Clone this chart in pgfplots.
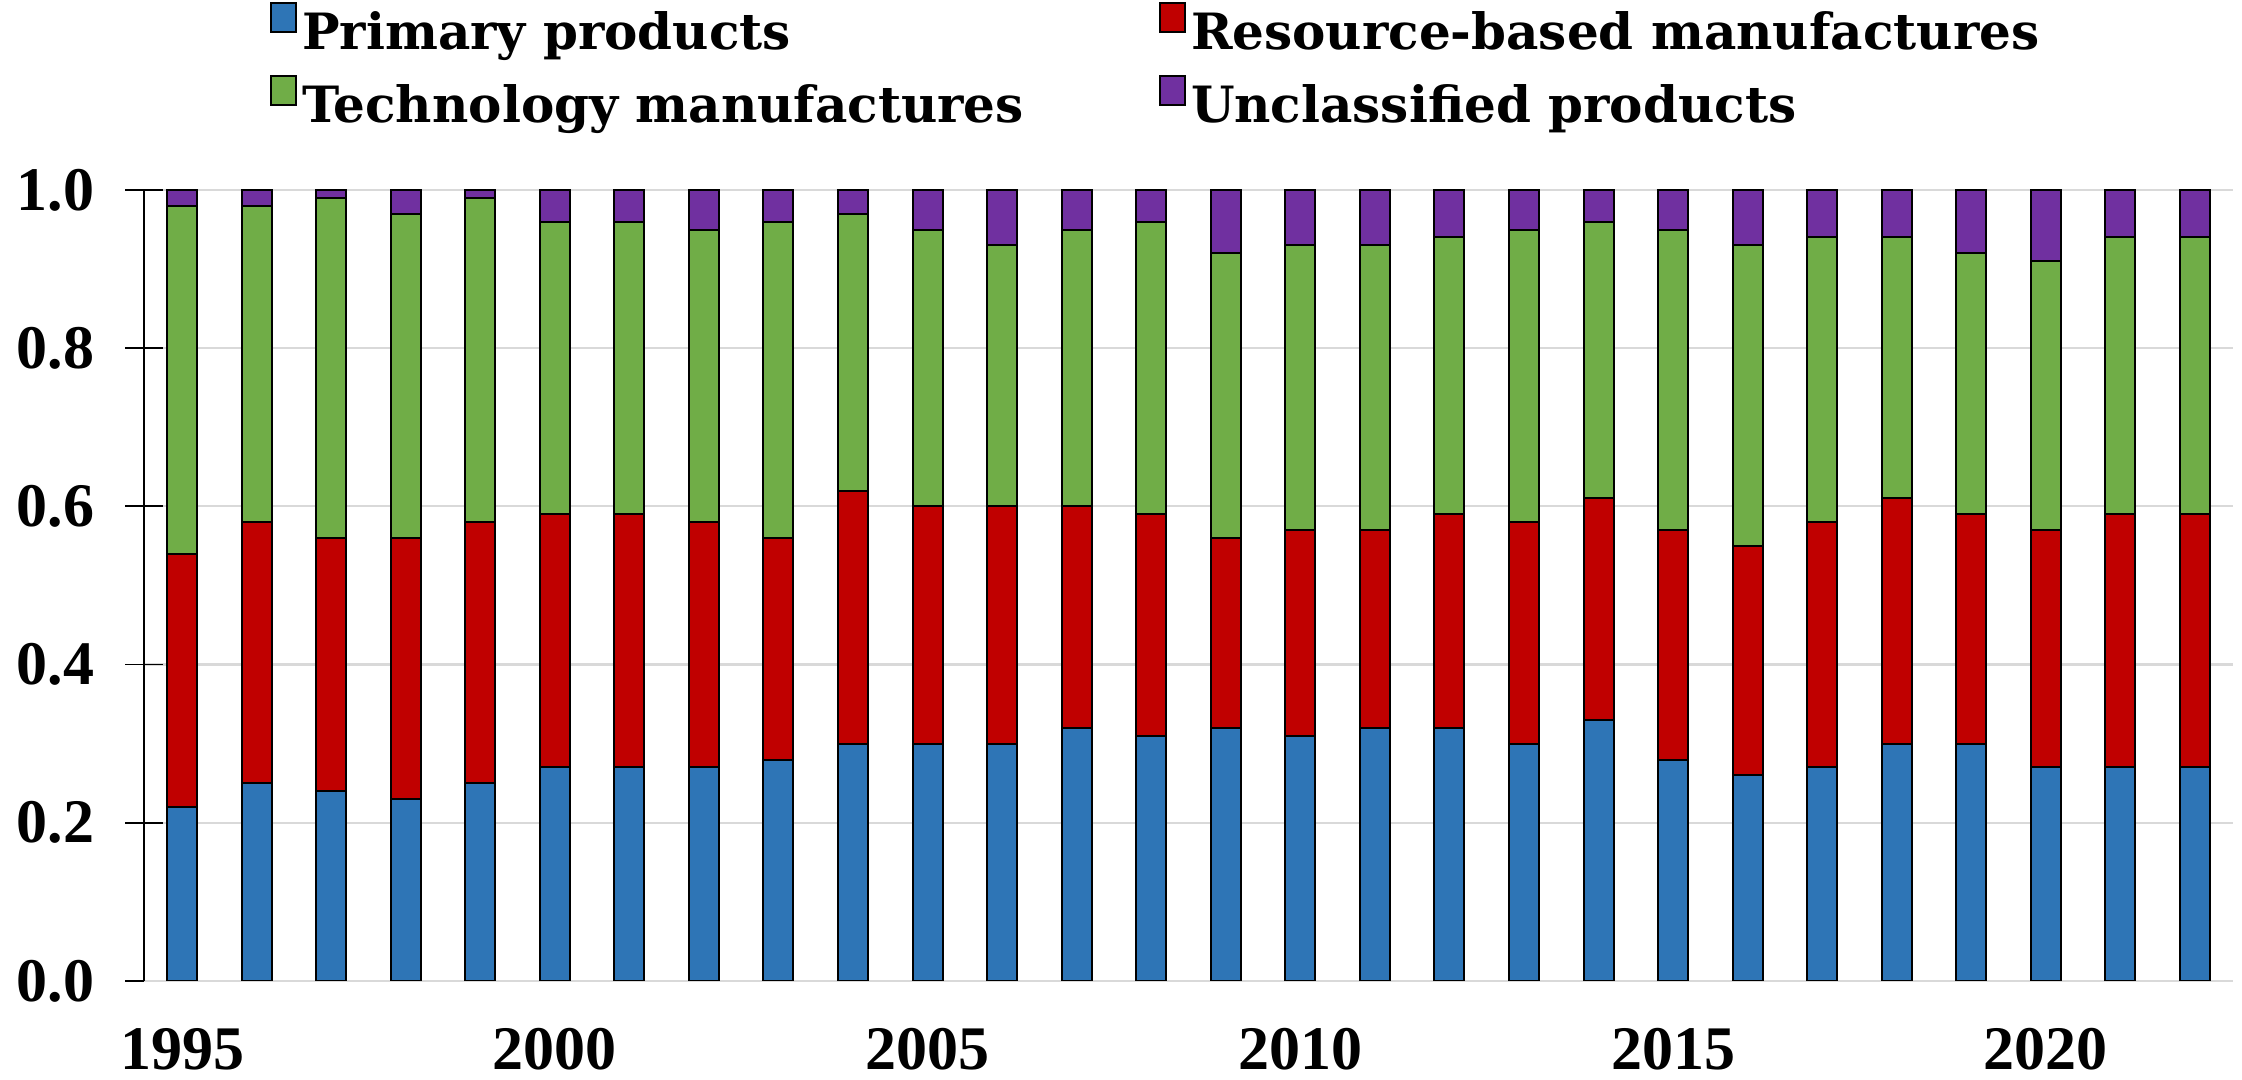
\documentclass[border=0pt]{standalone}
\usepackage{pgfplots}
\pgfplotsset{compat=1.18}
\usepackage{pgfplotstable}
\usepackage{fontspec}
\setmainfont{DejaVu Serif}
\newfontfamily\tickfont{Liberation Serif}

\definecolor{cPrim}{HTML}{2E75B6}
\definecolor{cRes}{HTML}{C00000}
\definecolor{cTech}{HTML}{70AD47}
\definecolor{cUncl}{HTML}{7030A0}
\definecolor{cGrid}{HTML}{D9D9D9}

% Export shares by product group (x = years since 1995)
\pgfplotstableread{
x  prim res  tech uncl
0  0.22 0.32 0.44 0.02
1  0.25 0.33 0.40 0.02
2  0.24 0.32 0.43 0.01
3  0.23 0.33 0.41 0.03
4  0.25 0.33 0.41 0.01
5  0.27 0.32 0.37 0.04
6  0.27 0.32 0.37 0.04
7  0.27 0.31 0.37 0.05
8  0.28 0.28 0.40 0.04
9  0.30 0.32 0.35 0.03
10 0.30 0.30 0.35 0.05
11 0.30 0.30 0.33 0.07
12 0.32 0.28 0.35 0.05
13 0.31 0.28 0.37 0.04
14 0.32 0.24 0.36 0.08
15 0.31 0.26 0.36 0.07
16 0.32 0.25 0.36 0.07
17 0.32 0.27 0.35 0.06
18 0.30 0.28 0.37 0.05
19 0.33 0.28 0.35 0.04
20 0.28 0.29 0.38 0.05
21 0.26 0.29 0.38 0.07
22 0.27 0.31 0.36 0.06
23 0.30 0.31 0.33 0.06
24 0.30 0.29 0.33 0.08
25 0.27 0.30 0.34 0.09
26 0.27 0.32 0.35 0.06
27 0.27 0.32 0.35 0.06
}\shares

\begin{document}
\begin{tikzpicture}
\path[use as bounding box] (-72pt,-49.5pt) rectangle (1049pt,490.5pt);
\begin{axis}[
  at={(0pt,0pt)}, anchor=south west,
  scale only axis,
  width=1044.5pt, height=395.5pt,
  ybar stacked,
  bar width=15pt,
  xmin=-0.51, xmax=27.51,
  ymin=0, ymax=1,
  xtick={0,5,10,15,20,25},
  xticklabels={1995,2000,2005,2010,2015,2020},
  ytick={0,0.2,0.4,0.6,0.8,1.0},
  yticklabel style={anchor=east, inner sep=0pt, xshift=-15.5pt,
    /pgf/number format/fixed, /pgf/number format/fixed zerofill,
    /pgf/number format/precision=1, /pgf/number format/assume math mode=true},
  xticklabel style={anchor=base, inner sep=0pt, yshift=-44.5pt},
  ticklabel style={font=\tickfont\fontsize{31}{34}\selectfont\bfseries},
  xtick style={draw=none},
  ytick style={black, line width=0.9pt},
  major tick length=18.5pt,
  ytick align=center,
  ymajorgrids,
  grid style={cGrid, line width=1.1pt},
  axis x line*=bottom,
  axis y line*=left,
  x axis line style={cGrid, line width=1.1pt, -},
  y axis line style={black, line width=0.9pt, -},
  legend columns=2,
  legend cell align=left,
  legend image code/.code={\draw[#1, line width=0.9pt] (0pt,0pt) rectangle (12.5pt,14.5pt);},
  legend style={
    at={(0,1)}, anchor=north west,
    xshift=63pt, yshift=94pt,
    draw=none, fill=none, inner sep=0pt,
    nodes={inner sep=0pt},
    font=\fontsize{25}{30}\selectfont\bfseries,
    row sep=11.3pt, column sep=0pt,
    /tikz/every odd column/.append style={column sep=2.5pt},
  },
  every axis plot/.append style={draw=black, line width=1pt},
]
\addplot[fill=cPrim] table[x=x, y=prim] {\shares};
\addlegendentry{\makebox[428.5pt][l]{Primary products}}
\addplot[fill=cRes] table[x=x, y=res] {\shares};
\addlegendentry{Resource-based manufactures}
\addplot[fill=cTech] table[x=x, y=tech] {\shares};
\addlegendentry{\makebox[428.5pt][l]{Technology manufactures}}
\addplot[fill=cUncl] table[x=x, y=uncl] {\shares};
\addlegendentry{Unclassified products}
\end{axis}
\end{tikzpicture}
\end{document}
